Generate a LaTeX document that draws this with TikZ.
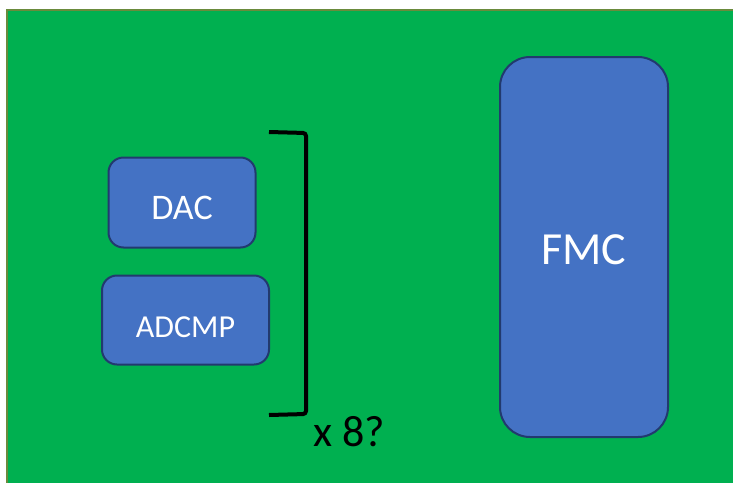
\documentclass[tikz,border=0pt]{standalone}
\usepackage{fontspec}
\setmainfont{Carlito}
\definecolor{slidegreen}{HTML}{00B050}
\definecolor{slideframe}{HTML}{6A8B3C}
\definecolor{blockblue}{HTML}{4472C4}
\definecolor{blockline}{HTML}{223A6E}
\tikzset{%
  blk/.style = {rectangle,draw=blockline,fill=blockblue,line width=2pt,
        text=white,inner sep=0pt,text depth=0pt},
  small/.style = {blk,rounded corners=15pt},
  tall/.style = {blk,rounded corners=30pt},
  brk/.style = {draw=black,line width=4pt,rounded corners=3pt},
  lbl/.style = {inner sep=0pt,text=black}
}
\begin{document}
\begin{tikzpicture}[x=1pt,y=-1pt]
    \useasboundingbox (0,0) rectangle (733,482);
    \clip (0,0) rectangle (733,482);
    \fill[white] (0,0) rectangle (733,482);
    % slide
    \draw[slideframe,fill=slidegreen,line width=2pt] (7,10) rectangle (740,490);
    % blocks
    \node[small,minimum width=147pt,minimum height=90pt,text height=34pt,
          font=\fontsize{36}{40}\selectfont] (dac) at (182,202.5) {DAC};
    \node[small,minimum width=167pt,minimum height=89pt,text height=35pt,
          font=\fontsize{32}{36}\selectfont] (adcmp) at (185.5,320) {ADCMP};
    \node[tall,minimum width=168pt,minimum height=380pt,text height=34pt,
          font=\fontsize{46}{50}\selectfont] (fmc) at (584,247) {FMC};
    % bracket
    \coordinate (brtl) at (269,132);
    \coordinate (brtr) at (306,133);
    \coordinate (brbr) at (306,414);
    \coordinate (brbl) at (269,415);
    \draw[brk] (brtl) -- (brtr) -- (brbr) -- (brbl);
    \node[lbl,anchor=base west,font=\fontsize{44}{48}\selectfont] (mult)
          at (313,446) {x 8?};
\end{tikzpicture}
\end{document}
